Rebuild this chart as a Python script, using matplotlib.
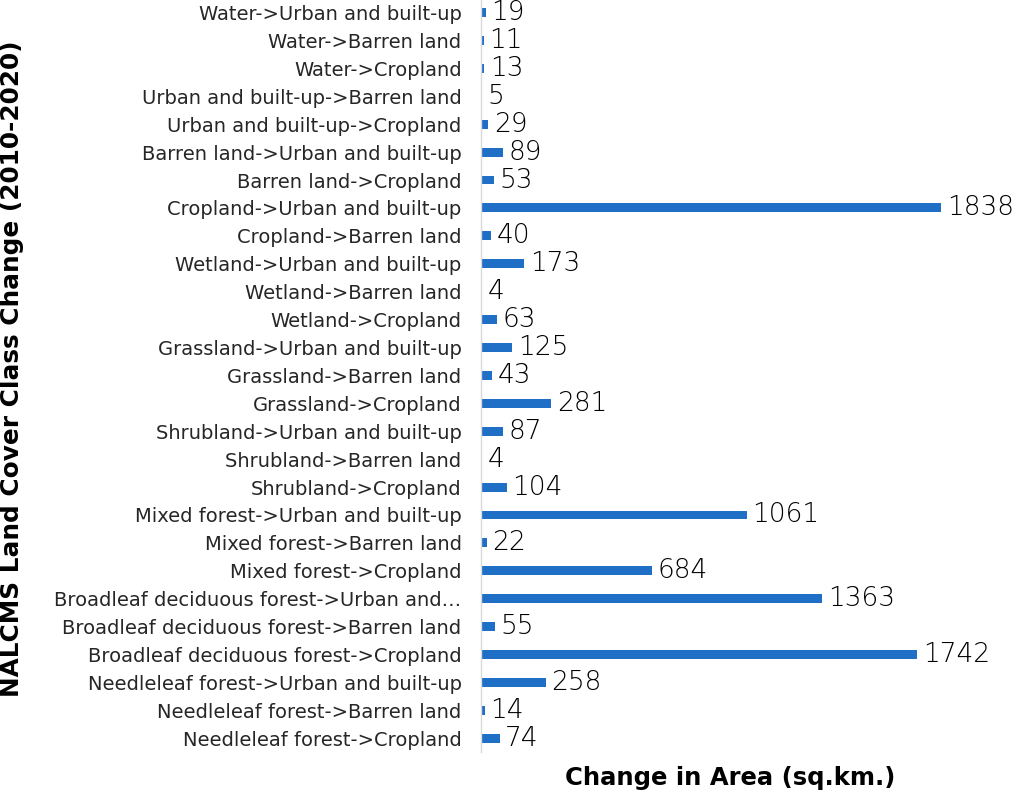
import matplotlib.pyplot as plt

plt.rcParams['font.family'] = ['DejaVu Sans']

# bottom to top, as drawn
categories = [
    "Needleleaf forest->Cropland",
    "Needleleaf forest->Barren land",
    "Needleleaf forest->Urban and built-up",
    "Broadleaf deciduous forest->Cropland",
    "Broadleaf deciduous forest->Barren land",
    "Broadleaf deciduous forest->Urban and\u2026",
    "Mixed forest->Cropland",
    "Mixed forest->Barren land",
    "Mixed forest->Urban and built-up",
    "Shrubland->Cropland",
    "Shrubland->Barren land",
    "Shrubland->Urban and built-up",
    "Grassland->Cropland",
    "Grassland->Barren land",
    "Grassland->Urban and built-up",
    "Wetland->Cropland",
    "Wetland->Barren land",
    "Wetland->Urban and built-up",
    "Cropland->Barren land",
    "Cropland->Urban and built-up",
    "Barren land->Cropland",
    "Barren land->Urban and built-up",
    "Urban and built-up->Cropland",
    "Urban and built-up->Barren land",
    "Water->Cropland",
    "Water->Barren land",
    "Water->Urban and built-up",
]
area = [74, 14, 258, 1742, 55, 1363, 684, 22, 1061, 104, 4, 87, 281, 43, 125,
        63, 4, 173, 40, 1838, 53, 89, 29, 5, 13, 11, 19]

fig = plt.figure(figsize=(10.17, 7.96), dpi=100)
ax = fig.add_axes([0.473, 0.055, 0.4925, 0.945])

pos = range(len(categories))
ax.barh(pos, area, height=0.32, color='#1F6FC6')
for y, v in zip(pos, area):
    ax.text(v + 22, y, str(v), va='center', ha='left', fontsize=19,
            color='black', fontweight='light')

ax.set_yticks(list(pos))
ax.set_yticklabels(categories, fontsize=14, color='#262626')
ax.tick_params(axis='y', length=0, pad=14)
ax.set_xticks([])
ax.set_xlim(0, 2000)
ax.set_ylim(-0.5, 26.45)
for s in ['top', 'right', 'bottom']:
    ax.spines[s].set_visible(False)
ax.spines['left'].set_color('#d9d9d9')
ax.spines['left'].set_linewidth(1)

fig.text(0.718, 0.0226, "Change in Area (sq.km.)", ha='center', va='center',
         fontsize=17.5, fontweight='bold')
fig.text(0.012, 0.537, "NALCMS Land Cover Class Change (2010-2020)", ha='center',
         va='center', rotation=90, fontsize=17.8, fontweight='bold')

plt.savefig('out.png', dpi=100)
